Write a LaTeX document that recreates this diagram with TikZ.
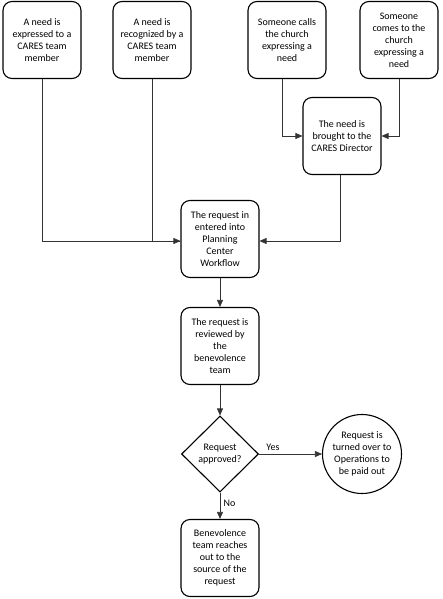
\documentclass[tikz,border=0pt]{standalone}
\usepackage{fontspec}
\setmainfont{Carlito}
\usetikzlibrary{shapes.geometric,arrows.meta}

\begin{document}
\begin{tikzpicture}[x=1pt,y=-1pt,node distance=110pt,
	box/.style={draw,line width=1.1pt,rounded corners=9pt,minimum width=78pt,minimum height=77pt,inner sep=2pt,align=center,font=\fontsize{10}{12}\selectfont},
	decision/.style={draw,diamond,line width=1.1pt,minimum width=77pt,minimum height=76pt,inner sep=0pt,align=center,font=\fontsize{10}{12}\selectfont},
	endpoint/.style={draw,circle,line width=1.1pt,minimum size=79pt,inner sep=0pt,align=center,font=\fontsize{10}{12}\selectfont},
	link/.style={draw=black!80,line width=0.7pt},
	arrow/.style={link,-{Triangle[length=7pt,width=6pt]}},
	lbl/.style={font=\fontsize{10}{12}\selectfont}]
		\useasboundingbox (0,0) rectangle (442,599);
		\node[box] (A) at (42,40) {A need is\\expressed to a\\CARES team\\member};
		\node[box] (B) [right of=A] {A need is\\recognized by a\\CARES team\\member};
		\node[box] (C) [right of=B, node distance=135pt] {Someone calls\\the church\\expressing a\\need};
		\node[box] (D) [right of=C, node distance=112pt] {Someone\\comes to the\\church\\expressing a\\need};
		\node[box] (E) at (342,136) {The need is\\brought to the\\CARES Director};
		\node[box] (W) at (220,239) {The request in\\entered into\\Planning\\Center\\Workflow};
		\node[box] (R) [below of=W, node distance=107pt] {The request is\\reviewed by\\the\\benevolence\\team};
		\node[decision] (Q) [below of=R, node distance=108pt] {Request\\approved?};
		\node[endpoint] (P) [right of=Q, node distance=142pt] {Request is\\turned over to\\Operations to\\be paid out};
		\node[box] (F) [below of=Q, node distance=104pt] {Benevolence\\team reaches\\out to the\\source of the\\request};
		\draw[arrow] (A.south) |- ([yshift=-2pt]W.west);
		\draw[link] (B.south) |- ([yshift=-2pt]W.west);
		\draw[arrow] ([xshift=-5pt]C.south) |- (E.west);
		\draw[arrow] (D.south) |- (E.east);
		\draw[arrow] ([xshift=-2pt]E.south) |- ([yshift=-2pt]W.east);
		\draw[arrow] (W) -- (R);
		\draw[arrow] (R) -- (Q);
		\draw[arrow] (Q) -- node[lbl, above, pos=0.22] (Y) {Yes} (P);
		\draw[arrow] (Q) -- node[lbl, right, pos=0.42] (N) {No} (F);
\end{tikzpicture}
\end{document}
